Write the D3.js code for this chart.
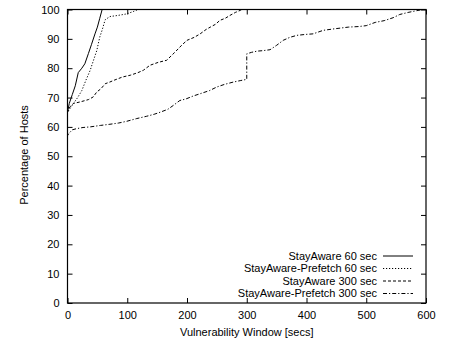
<!DOCTYPE html>
<html>
<head>
<meta charset="utf-8">
<script src="https://cdn.jsdelivr.net/npm/d3@7"></script>
<style>
  html, body { margin: 0; padding: 0; background: #fff; }
  svg text { font-family: "Liberation Sans", Arial, Helvetica, sans-serif; fill: #000; }
</style>
</head>
<body>
<svg id="chart" width="449" height="341"></svg>
<script>
// CDF of vulnerability window (seconds) vs. percentage of hosts
const xTicks = [0, 100, 200, 300, 400, 500, 600];
const yTicks = [0, 10, 20, 30, 40, 50, 60, 70, 80, 90, 100];

const seriesNames = [
  "StayAware 60 sec",
  "StayAware-Prefetch 60 sec",
  "StayAware 300 sec",
  "StayAware-Prefetch 300 sec"
];

const stayAware60 = [
  [0, 0], [0, 65], [3, 68], [8, 71], [13, 74], [18, 78.5], [24, 80], [29, 81.5],
  [35, 85], [40, 88], [46, 91.7], [50, 94], [54, 97], [58, 100], [600, 100]
];

const prefetch60 = [
  [0, 0], [0, 65], [5, 66.5], [10, 68], [17, 70], [24, 72.4], [31, 76], [38, 79.3],
  [44, 83], [49, 86], [54, 90.6], [58, 93], [63, 96.5], [71, 97.6], [85, 98],
  [99, 98.5], [110, 99.3], [118, 100], [600, 100]
];

const stayAware300 = [
  [0, 0], [0, 65], [4, 66.8], [10, 68], [21, 68.5], [35, 69.3], [43, 70.2], [49, 71.9],
  [56, 73], [63, 74.7], [71, 75.3], [78, 75.9], [92, 77], [105, 77.6], [118, 78.5],
  [127, 79.3], [138, 81], [152, 82], [166, 82.7], [180, 85.5], [192, 88], [200, 89.5],
  [212, 90.5], [222, 91.7], [232, 93.2], [239, 94], [248, 95], [255, 96.3], [264, 97],
  [272, 98], [281, 99], [289, 99.7], [292, 100], [600, 100]
];

const prefetch300 = [
  [0, 0], [0, 57], [2, 57.7], [8, 59], [15, 59.4], [26, 59.8], [38, 60], [55, 60.5],
  [71, 60.9], [85, 61.3], [99, 61.9], [115, 62.8], [132, 63.6], [145, 64.3], [155, 65],
  [168, 66], [177, 67.3], [188, 69], [198, 69.5], [210, 70.5], [222, 71.3], [238, 72.4],
  [250, 73.6], [263, 74.5], [278, 75.3], [290, 75.8], [300, 76.2], [300, 84.9],
  [308, 85.4], [317, 85.8], [328, 86], [339, 86.3], [350, 87.8], [361, 89.5],
  [372, 90.5], [384, 91.2], [398, 91.5], [411, 91.7], [428, 92.9], [446, 93.4],
  [470, 94], [488, 94.2], [500, 94.5], [515, 95.6], [530, 96.2], [545, 97.2],
  [556, 98.3], [570, 99], [582, 99.5], [595, 100], [600, 100]
];

const seriesData = [stayAware60, prefetch60, stayAware300, prefetch300];
const dashes = [null, "1.2,1.8", "3,2", "4,2,1.2,2"];

const svg = d3.select("#chart");
const mLeft = 67.5, mRight = 426, mTop = 9.5, mBottom = 303;

const x = d3.scaleLinear().domain([0, 600]).range([mLeft, mRight]);
const y = d3.scaleLinear().domain([0, 100]).range([mBottom, mTop]);

const line = d3.line().x(d => x(d[0])).y(d => y(d[1]));

svg.append("clipPath").attr("id", "clip")
  .append("rect").attr("x", mLeft).attr("y", mTop - 1)
  .attr("width", mRight - mLeft).attr("height", mBottom - mTop + 1);

// Curves
const curves = svg.append("g").attr("clip-path", "url(#clip)");
seriesData.forEach((data, i) => {
  curves.append("path")
    .datum(data)
    .attr("d", line)
    .attr("fill", "none")
    .attr("stroke", "#000")
    .attr("stroke-width", 1)
    .attr("stroke-dasharray", dashes[i]);
});

// Axes with inward ticks on all four sides
const tickLen = 5;
const axB = d3.axisBottom(x).tickValues(xTicks).tickSizeInner(-tickLen).tickSizeOuter(0).tickPadding(8);
const axT = d3.axisTop(x).tickValues(xTicks).tickSizeInner(-tickLen).tickSizeOuter(0).tickFormat("");
const axL = d3.axisLeft(y).tickValues(yTicks).tickSizeInner(-tickLen).tickSizeOuter(0).tickPadding(8);
const axR = d3.axisRight(y).tickValues(yTicks).tickSizeInner(-tickLen).tickSizeOuter(0).tickFormat("");

function style(g) {
  g.selectAll("path.domain").remove();
  g.selectAll("line").attr("stroke", "#000").attr("stroke-width", 1);
  g.selectAll("text").style("font-size", "11px")
    .style("font-family", '"Liberation Sans", Arial, sans-serif');
}
svg.append("g").attr("transform", `translate(0,${mBottom})`).call(axB).call(style);
svg.append("g").attr("transform", `translate(0,${mTop})`).call(axT).call(style);
svg.append("g").attr("transform", `translate(${mLeft},0)`).call(axL).call(style);
svg.append("g").attr("transform", `translate(${mRight},0)`).call(axR).call(style);

// Frame
svg.append("rect")
  .attr("x", mLeft).attr("y", mTop)
  .attr("width", mRight - mLeft).attr("height", mBottom - mTop)
  .attr("fill", "none").attr("stroke", "#000").attr("stroke-width", 1.2);

// Axis titles
svg.append("text")
  .attr("x", (mLeft + mRight) / 2).attr("y", 336)
  .attr("text-anchor", "middle").style("font-size", "11px")
  .text("Vulnerability Window [secs]");

svg.append("text")
  .attr("transform", "translate(28,155) rotate(-90)")
  .attr("text-anchor", "middle").style("font-size", "11px")
  .text("Percentage of Hosts");

// Legend
const legend = svg.append("g");
const legendY0 = 256, legendStep = 12.5;
seriesNames.forEach((name, i) => {
  const ly = legendY0 + i * legendStep;
  legend.append("text")
    .attr("x", 377).attr("y", ly).attr("dy", "0.35em")
    .attr("text-anchor", "end").style("font-size", "11px")
    .text(name);
  legend.append("line")
    .attr("x1", 383).attr("x2", 413).attr("y1", ly).attr("y2", ly)
    .attr("stroke", "#000").attr("stroke-width", 1)
    .attr("stroke-dasharray", dashes[i]);
});
</script>
</body>
</html>
